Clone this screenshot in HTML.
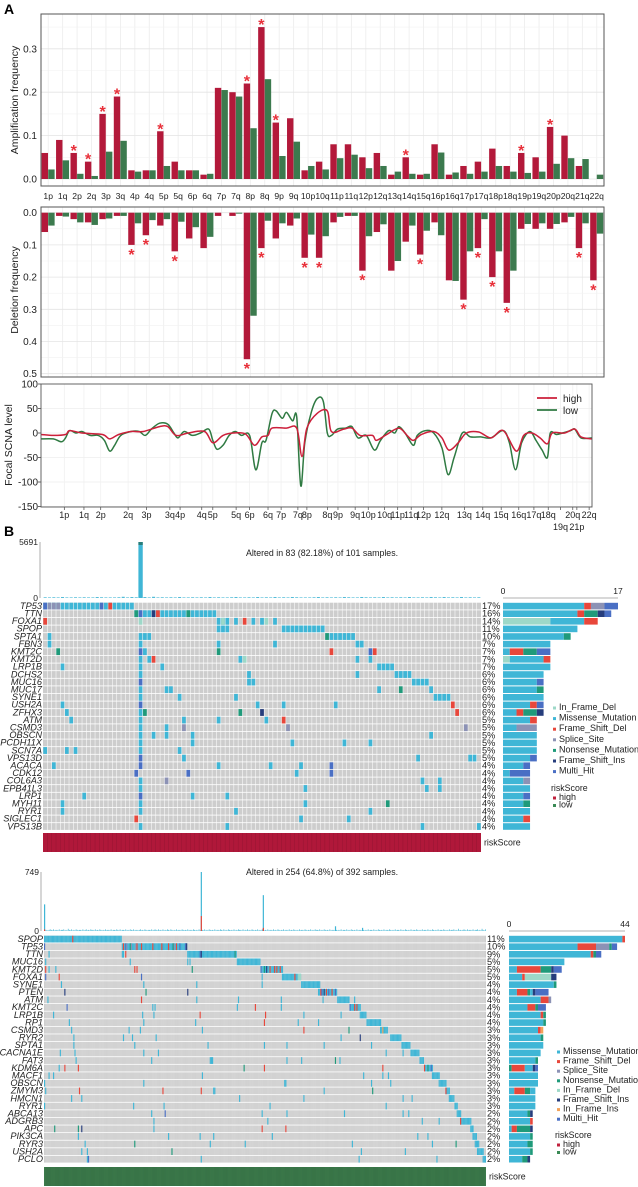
<!DOCTYPE html>
<html><head><meta charset="utf-8">
<style>
html,body{margin:0;padding:0;background:#fff;}
svg{display:block;font-family:"Liberation Sans",Arial,sans-serif;}
</style></head>
<body>
<svg id="fig" width="638" height="1187" viewBox="0 0 638 1187" xmlns="http://www.w3.org/2000/svg">
<text x="4" y="14" font-size="14" font-weight="bold">A</text>
<text x="4" y="536" font-size="14" font-weight="bold">B</text>
</svg>
<script>
// ---------- DATA ----------
const armLabels=['1p','1q','2p','2q','3p','3q','4p','4q','5p','5q','6p','6q','7p','7q','8p','8q','9p','9q','10p','10q','11p','11q','12p','12q','13q','14q','15q','16p','16q','17p','17q','18p','18q','19p','19q','20p','20q','21q','22q'];
const ampHigh=[.06,.09,.06,.04,.15,.19,.02,.02,.11,.04,.02,.01,.21,.20,.22,.35,.13,.14,.02,.04,.08,.08,.05,.06,.01,.05,.01,.08,.01,.03,.04,.07,.03,.06,.05,.12,.10,.03,.0];
const ampLow=[.022,.043,.012,.007,.063,.088,.017,.02,.03,.02,.02,.012,.205,.19,.117,.23,.053,.086,.03,.022,.048,.056,.025,.03,.017,.012,.012,.061,.015,.012,.017,.03,.017,.014,.017,.035,.048,.046,.01];
const ampSig=[0,0,1,1,1,1,0,0,1,0,0,0,0,0,1,1,1,0,0,0,0,0,0,0,0,1,0,0,0,0,0,0,0,1,0,1,0,0,0];
const delHigh=[.06,.01,.02,.03,.02,.01,.10,.07,.04,.12,.08,.11,.01,.01,.455,.11,.08,.04,.14,.14,.03,.01,.18,.06,.18,.09,.13,.03,.21,.27,.11,.20,.28,.05,.05,.05,.03,.11,.21];
const delLow=[.04,.012,.03,.038,.018,.01,.033,.023,.02,.028,.045,.075,0,.003,.32,.025,.033,.018,.068,.073,.013,.01,.073,.036,.15,.04,.056,.07,.212,.12,.02,.12,.18,.035,.033,.035,.013,.033,.065];
const delSig=[0,0,0,0,0,0,1,1,0,1,0,0,0,0,1,1,0,0,1,1,0,0,1,0,0,0,1,0,0,1,1,1,1,0,0,0,0,1,1];
const ampTicks=[0,0.1,0.2,0.3];
const delTicks=[0,0.1,0.2,0.3,0.4,0.5];
const focalTicks=[100,50,0,-50,-100,-150];
const focalLowPos=[0,30,50,60,70,85,100,120,140,155,168,180,195,220,240,255,270,290,310,325,335,350,370,390,410,420,430,445,460,475,490,510,525,540,550,565,575,590,600,615,625,635,645,660,675,690,700,710,725,745,760,775,795,815,830,850,865,875,890,910,920,940,960,980,995,1010,1030,1050,1075,1100,1130,1145,1160,1175,1195,1210,1225,1238,1245,1260,1275,1295,1305,1320,1347];
const focalLowVal=[-12,-12,-18,-10,5,0,3,-5,-5,-15,-37,-25,-5,3,3,-5,8,20,18,0,-10,3,-5,0,8,-15,-33,-25,-5,3,-5,-5,-75,-20,-15,40,45,30,42,25,33,-108,-20,40,70,65,0,-5,8,10,13,-10,-5,-35,-15,5,0,13,0,-25,-5,5,0,-30,-85,-50,0,-8,-8,-10,5,-20,-75,-20,3,-15,-35,-50,0,-3,0,5,8,-10,-10];
const focalHighPos=[0,30,60,70,100,150,168,190,220,250,290,310,330,360,400,420,445,470,500,522,540,555,565,600,625,638,650,675,700,710,740,760,780,810,820,845,875,895,910,930,960,980,997,1020,1040,1070,1100,1130,1162,1180,1200,1220,1238,1250,1280,1305,1320,1347];
const focalHighVal=[-3,-5,-3,5,0,-3,-12,-3,3,3,13,13,-5,0,3,-20,-5,0,-2,-25,-8,-5,10,10,10,-48,10,40,45,3,8,10,-5,-5,-15,-3,10,-5,-15,-3,3,-10,-35,-20,0,2,-10,5,-37,-5,0,-10,-22,0,0,8,-8,-12];
const focalLabels=['1p','1q','2p','2q','3p','3q','4p','4q','5p','5q','6p','6q','7p','7q','8p','8q','9p','9q','10p','10q','11p','11q','12p','12q','13q','14q','15q','16q','17q','18q','19q','20q','21p','22q'];
const focalLabelPos=[57,105,146,213,258,315,340,393,420,477,510,555,587,628,650,700,726,768,800,840,872,905,935,980,1035,1080,1125,1168,1205,1240,1270,1300,1310,1340];
const focalLabelRow=[0,0,0,0,0,0,0,0,0,0,0,0,0,0,0,0,0,0,0,0,0,0,0,0,0,0,0,0,0,0,1,0,1,0];

// Oncoplot 1
const genes1=['TP53','TTN','FOXA1','SPOP','SPTA1','FBN3','KMT2C','KMT2D','LRP1B','DCHS2','MUC16','MUC17','SYNE1','USH2A','ZFHX3','ATM','CSMD3','OBSCN','PCDH11X','SCN7A','VPS13D','ACACA','CDK12','COL6A3','EPB41L3','LRP1','MYH11','RYR1','SIGLEC1','VPS13B'];
const pct1=['17%','16%','14%','11%','10%','7%','7%','7%','7%','6%','6%','6%','6%','6%','6%','5%','5%','5%','5%','5%','5%','4%','4%','4%','4%','4%','4%','4%','4%','4%'];
const muts1=["0-20M,0X,1-3S,13X,15F","21-39M,21N,22X,25I,26F,33N","0F,22D,40-42M,41D,44M,46F,48M,50M,51D,53M","40-42M,55-64M","1M,22-24M,65N,66-71M","1M,22M,40M,53M,72-73M","3N,22X,23M,40N,66F,75X,76F","22M,24M,25F,45M,46D,72M,75M","4M,22M,27M,77-80M","22M,47M,72M,81-84M","22X,47-48M,85-88M","22M,28-29M,77M,82N,89M","22M,31M,44M,90-93M","4M,22X,49M,55M,67M,94F","5M,22M,23N,45N,50I,95F","6M,22M,32M,40M,51M,55F","22M,28M,32S,56S,97S","22M,25M,28M,34M,89M","22M,34M,57M,69M,75M","0M,5M,7M,22M,31M","22X,32M,86M,98-99M","2M,22X,40M,52M,59M,66X","21X,33X,58M,66X","22M,28S,87M,91M","22M,60M,88M,91M","9M,22X,34M,42M","4M,22M,60M,79N","4M,22M,44M,75M","21F,59M,70M","22M,42M,87M,100M"];
const barSeg1=["M12,F1,S2,X2","M11,F1,N2,I1,X1","D7,M5,F2","M11","M9,N1","M7","M1,F2,N2,X2","D1,M5,F1","M7","M6","M5,X1","M5,N1","M6","M4,F1,X1","M2,F1,N2,I1","M4,F1","M2,S3","M5","M5","M5","M4,X1","M3,X1","M1,X3","M3,S1","M4","M3,X1","M3,N1","M4","M3,F1","M4"];
const tmb1Str="31324213232143221352432415231324213231423213421324231423143221342313243214323142313242132431423141";
const tmb1Spike=[[22,5691]];

// Oncoplot 2
const genes2=['SPOP','TP53','TTN','MUC16','KMT2D','FOXA1','SYNE1','PTEN','ATM','KMT2C','LRP1B','RP1','CSMD3','RYR2','SPTA1','CACNA1E','FAT3','KDM6A','MACF1','OBSCN','ZMYM3','HMCN1','RYR1','ABCA13','ADGRB3','APC','PIK3CA','RYR3','USH2A','PCLO'];
const pct2=['11%','10%','9%','5%','5%','5%','4%','4%','4%','4%','4%','4%','3%','3%','3%','3%','3%','3%','3%','3%','3%','3%','3%','2%','2%','2%','2%','2%','2%','2%'];
const muts2=["0-68M,25F","69-126M,70F,82F,86F,96F,104F,110F,117F,72X,120X,125X,73S,77S,81S,115S,76N,114N,126I,0X","127-170M,138X,139I,169N,4M,69-70M,72F","171-191M,1M,76M,127M,129M","192-211M,192X,195N,197I,200F,204F,206F,209F,1F,4M,10M,80F,82F,131N","211-227M,222F,225-227D,1X,13F,86X,193M","228-244M,15M,88M,135M,193M","243-259M,245F,246X,248I,250F,252X,255F,258X,18I,90N,127I","260-270M,3M,86F,135M,172M,210M,247M,275M","271-280M,271X,275F,277F,20X,96M,98M,171M,187F,210M","280-285M,8M,87M,97M,138F,196F,230M,263M","286-298M,22M,88M,134M,195F,225M,243M","298-304M,24M,75M,85M,140M,230F,270N,300O","307-316M,26M,70M,78M,99M,263M,280I","317-324M,26M,80M,145M,195M,215M,248M,290M","325-332M,14M,27M,88M,101M,303M,318M","333-336M,28M,95M,147-149M,215M,228M,258N,262M","337-344M,337F,340N,343X,13M,18F,30F,177N,195F,300F","344-350M,4M,8M,140M,283M,300M,305M","350-356M,0M,88M,213-214M,290M,307M","356-359M,356F,1M,31F,105F,139F,150-151M,248M,291N","359-363M,24M,33M,173M,230M,318M,326M","364-366M,0M,79M,106M,200M,303M","366-369M,95M,107X,193M,215M,266M,318M,323M","369-378M,369F,97M,198M,335M,350M","378-380M,9N,30N,33I,97M,193F,214F","380-383M,30M,110M,138M,150M,202M,331M,340M","382-385M,36M,80N,147M,178M,273M,344M,365N","384-389M,33M,38M,113N,281M,320M","389-391M,38M,39X,139M,279M,348M"];
const barSeg2=["M43,F1","M26,F7,S5,N1,X2","M31,F1,N1,X2","M21","M3,F9,N4,I1,X3","M5,F1,D10,I2","M17,N1","M3,F4,N1,M1,I1,X5","M12,F3,S1","M7,F3,N1,X3","M12,F1,N1","M13,N1","M11,F1,O1","M12,N1","M13","M12","M10,N1","N1,F5,M3,I1,X1","M11","M11","M2,F4,N2,M2","M10","M10","M7,N1,I1","M8,F1","M1,F2,N5,I1","M8,N1","M7,N2","M8,N1","M5,N2,I1"];
const tmb2Str="4121232131221312231214213121321221312312132213121321213122131221321312213121321312212312132122131232131213121321321213122132121312213212131221312132121312213213121321213121322131213121321213121321213122131213212131221312132121312213212131213221312132121312213212131221312132121312213212131221312132121312213212131221312132121312213212131221312132121312213212131223121";
const tmb2Spike=[[0,338,20],[139,749,190],[194,455,40],[258,60,0],[282,40,0]];

const colors={M:'#3fb6d6',F:'#e8473b',S:'#8c92b5',N:'#1f9a7a',D:'#9dd8c8',I:'#263d7c',X:'#4a6fc4',O:'#f2a25a'};
const legend1=[['D','In_Frame_Del'],['M','Missense_Mutation'],['F','Frame_Shift_Del'],['S','Splice_Site'],['N','Nonsense_Mutation'],['I','Frame_Shift_Ins'],['X','Multi_Hit']];
const legend2=[['M','Missense_Mutation'],['F','Frame_Shift_Del'],['S','Splice_Site'],['N','Nonsense_Mutation'],['D','In_Frame_Del'],['I','Frame_Shift_Ins'],['O','In_Frame_Ins'],['X','Multi_Hit']];

// ---------- HELPERS ----------
const NS='http://www.w3.org/2000/svg';
const svg=document.getElementById('fig');
function mk(tag,parent){const e=document.createElementNS(NS,tag);(parent||svg).appendChild(e);return e;}
function at(e,o){for(const k in o)e.setAttribute(k,o[k]);return e;}
function txt(parent,x,y,s,size,anchor,extra){const t=mk('text',parent);at(t,{x:x,y:y,'font-size':size,'text-anchor':anchor||'start',fill:'#222'});if(extra)at(t,extra);t.textContent=s;return t;}
function parseMuts(str){const out=[];str.split(',').forEach(tok=>{const m=tok.match(/^(\d+)(?:-(\d+))?([A-Z])$/);if(!m)return;const a=+m[1],b=m[2]?+m[2]:a;for(let i=a;i<=b;i++)out.push([i,m[3]]);});return out;}
function parseSeg(str){return str.split(',').map(s=>[s[0],+s.slice(1)]);}

const HIGH='#b3193a',LOW='#3c7a4e',STAR='#e8303a';

// ---------- AMP / DEL ----------
const cx0=41,cx1=604,nArm=armLabels.length,cw=(cx1-cx0)/nArm;
function xArm(i){return cx0+(i+0.5)*cw;}
function yAmp(v){return 179-v*434;}
function yDel(v){return 212.7+v*322;}

function panelFrame(name,y0,y1,ticks,yf,fmt,title,titleY,x1){
  const g=mk('g');
  const bg=mk('rect',g);at(bg,{x:cx0,y:y0,width:(x1||cx1)-cx0,height:y1-y0,fill:'#fff'});
  return g;
}
// amp
const gA=panelFrame('amplification-chart',14,186);
for(let i=0;i<nArm;i++){const l=mk('line',gA);at(l,{x1:xArm(i),x2:xArm(i),y1:14,y2:186,stroke:'#ececec','stroke-width':0.8});}
ampTicks.forEach((t,k)=>{const y=yAmp(t);const l=mk('line',gA);at(l,{x1:cx0,x2:cx1,y1:y,y2:y,stroke:'#e4e4e4','stroke-width':0.8});
  const m=mk('line',gA);at(m,{x1:cx0,x2:cx1,y1:yAmp(t+0.05),y2:yAmp(t+0.05),stroke:'#f2f2f2','stroke-width':0.6});
  const tk=txt(gA,37,y+3.5,t.toFixed(1),10,'end');});
ampHigh.forEach((v,i)=>{const c=xArm(i);
  const r=mk('rect',gA);at(r,{x:c-6.6,y:yAmp(v),width:6.4,height:Math.max(0,yAmp(0)-yAmp(v)),fill:HIGH});
  const r2=mk('rect',gA);at(r2,{x:c,y:yAmp(ampLow[i]),width:6.4,height:Math.max(0,yAmp(0)-yAmp(ampLow[i])),fill:LOW});
  if(ampSig[i]){const s=txt(gA,c-3.4,yAmp(v)+3,'*',16,'middle',{fill:STAR,'font-weight':'bold'});}
});
{const b=mk('rect',gA);at(b,{x:cx0,y:14,width:cx1-cx0,height:172,fill:'none',stroke:'#555','stroke-width':1});}
{const t=txt(gA,0,0,'Amplification frequency',10.5,'middle',{transform:'translate(18,100) rotate(-90)'});}
armLabels.forEach((a,i)=>{const t=txt(svg,xArm(i),199,a,8.6,'middle');});

// del
const gD=panelFrame('deletion-chart',207,377);
for(let i=0;i<nArm;i++){const l=mk('line',gD);at(l,{x1:xArm(i),x2:xArm(i),y1:207,y2:377,stroke:'#ececec','stroke-width':0.8});}
delTicks.forEach(t=>{const y=yDel(t);const l=mk('line',gD);at(l,{x1:cx0,x2:cx1,y1:y,y2:y,stroke:'#e4e4e4','stroke-width':0.8});
  if(t<0.5){const m=mk('line',gD);at(m,{x1:cx0,x2:cx1,y1:yDel(t+0.05),y2:yDel(t+0.05),stroke:'#f2f2f2','stroke-width':0.6});}
  const tk=txt(gD,37,y+3.5,t.toFixed(1),10,'end');});
delHigh.forEach((v,i)=>{const c=xArm(i);
  const r=mk('rect',gD);at(r,{x:c-6.6,y:yDel(0),width:6.4,height:yDel(v)-yDel(0),fill:HIGH});
  const r2=mk('rect',gD);at(r2,{x:c,y:yDel(0),width:6.4,height:yDel(delLow[i])-yDel(0),fill:LOW});
  if(delSig[i]){const s=txt(gD,c-3.4,yDel(v)+15,'*',16,'middle',{fill:STAR,'font-weight':'bold'});}
});
{const b=mk('rect',gD);at(b,{x:cx0,y:207,width:cx1-cx0,height:170,fill:'none',stroke:'#555','stroke-width':1});}
{const t=txt(gD,0,0,'Deletion frequency',10.5,'middle',{transform:'translate(18,290) rotate(-90)'});}

// ---------- FOCAL ----------
const fx0=41,fx1=592,fy0=384,fy1=507,fSpan=1347;
function xF(p){return fx0+p/fSpan*(fx1-fx0);}
function yF(v){return 433-v*0.49;}
const gF=mk('g');
focalTicks.forEach(t=>{const y=yF(t);const l=mk('line',gF);at(l,{x1:fx0,x2:fx1,y1:y,y2:y,stroke:'#eeeeee','stroke-width':0.8});
  const tk=txt(gF,38,y+3.5,String(t),10,'end');
  const tm=mk('line',gF);at(tm,{x1:fx0-3,x2:fx0,y1:y,y2:y,stroke:'#444','stroke-width':0.8});});
focalLabelPos.forEach((p,i)=>{const l=mk('line',gF);at(l,{x1:xF(p),x2:xF(p),y1:fy0,y2:fy1,stroke:'#f0f0f0','stroke-width':0.8});
  const tm=mk('line',gF);at(tm,{x1:xF(p),x2:xF(p),y1:fy1,y2:fy1+3,stroke:'#444','stroke-width':0.7});
  const t=txt(gF,xF(p),518+focalLabelRow[i]*12,focalLabels[i],9,'middle');});
function smoothPath(ps,vs){const pts=ps.map((p,i)=>[xF(p),yF(vs[i])]);let d='M'+pts[0][0].toFixed(1)+','+pts[0][1].toFixed(1);
  for(let i=0;i<pts.length-1;i++){const p0=pts[Math.max(0,i-1)],p1=pts[i],p2=pts[i+1],p3=pts[Math.min(pts.length-1,i+2)];
    const c1=[p1[0]+(p2[0]-p0[0])/6,p1[1]+(p2[1]-p0[1])/6],c2=[p2[0]-(p3[0]-p1[0])/6,p2[1]-(p3[1]-p1[1])/6];
    d+=' C'+c1[0].toFixed(1)+','+c1[1].toFixed(1)+' '+c2[0].toFixed(1)+','+c2[1].toFixed(1)+' '+p2[0].toFixed(1)+','+p2[1].toFixed(1);}
  return d;}
{const p=mk('path',gF);at(p,{d:smoothPath(focalLowPos,focalLowVal),fill:'none',stroke:'#2f7a42','stroke-width':1.5});}
{const p=mk('path',gF);at(p,{d:smoothPath(focalHighPos,focalHighVal),fill:'none',stroke:'#cc1f3a','stroke-width':1.5});}
{const b=mk('rect',gF);at(b,{x:fx0,y:fy0,width:fx1-fx0,height:fy1-fy0,fill:'none',stroke:'#555','stroke-width':0.9});}
{const t=txt(gF,0,0,'Focal SCNA level',10.5,'middle',{transform:'translate(12,445) rotate(-90)'});}
{const g=mk('g',gF);
 const l1=mk('line',g);at(l1,{x1:537,x2:557,y1:398,y2:398,stroke:'#cc1f3a','stroke-width':1.8});
 const t1=txt(g,563,402,'high',10);
 const l2=mk('line',g);at(l2,{x1:537,x2:557,y1:410,y2:410,stroke:'#2f7a42','stroke-width':1.8});
 const t2=txt(g,563,414,'low',10);}

// ---------- ONCOPLOT ----------
function oncoplot(cfg){
  const g=mk('g');
  const n=cfg.nSamples,cwid=(cfg.mx1-cfg.mx0)/n;
  const xs=i=>cfg.mx0+i*cwid;
  // TMB top
  const tScale=(cfg.tmbY1-cfg.tmbY0)/cfg.tmbMax;
  const ax=mk('line',g);at(ax,{x1:cfg.mx0-3,x2:cfg.mx0-3,y1:cfg.tmbY0,y2:cfg.tmbY1,stroke:'#999','stroke-width':0.8});
  const tl=txt(g,cfg.mx0-5,cfg.tmbY0+3,String(cfg.tmbMax),8.5,'end');
  const t0=txt(g,cfg.mx0-5,cfg.tmbY1+3,'0',8.5,'end');
  for(let i=0;i<n;i++){const v=(+cfg.tmbStr[i%cfg.tmbStr.length])*cfg.tmbUnit;const h=Math.max(0.6,v*tScale);
    const r=mk('rect',g);at(r,{x:xs(i)+cwid*0.15,y:cfg.tmbY1-h,width:cwid*0.7,height:h,fill:'#52bcd8'});}
  cfg.spikes.forEach(s=>{const h=s[1]*tScale,hr=(s[2]||0)*tScale;
    const r=mk('rect',g);at(r,{x:xs(s[0]),y:cfg.tmbY1-h,width:Math.max(cwid,1.2),height:h,fill:colors.M});
    if(hr>0){const r2=mk('rect',g);at(r2,{x:xs(s[0]),y:cfg.tmbY1-hr,width:Math.max(cwid,1.2),height:hr,fill:colors.F});}
    if(cfg.capTop){const r3=mk('rect',g);at(r3,{x:xs(s[0]),y:cfg.tmbY1-h,width:cwid,height:3,fill:'#2a7d7a'});}
  });
  const title=txt(g,322,cfg.titleY,cfg.title,8.8,'middle');
  // matrix
  const rh=cfg.rowH;
  cfg.genes.forEach((gn,r)=>{const y=cfg.my0+r*rh;
    const bg=mk('rect',g);at(bg,{x:cfg.mx0,y:y+0.4,width:cfg.mx1-cfg.mx0,height:rh-0.8,fill:'#cdcdcd'});
    const lb=txt(g,cfg.mx0-1,y+rh-1,gn,9.2,'end',{'font-style':'italic'});
    const pc=txt(g,cfg.pctX,y+rh-0.8,cfg.pct[r],9.2,'start');
  });
  for(let i=1;i<n;i++){const l=mk('line',g);at(l,{x1:xs(i),x2:xs(i),y1:cfg.my0,y2:cfg.my0+rh*cfg.genes.length,stroke:'#fff','stroke-width':cfg.vline,'stroke-opacity':cfg.vop});}
  cfg.muts.forEach((s,r)=>{parseMuts(s).forEach(([i,c])=>{if(i>=n)return;const c2=mk('rect',g);at(c2,{x:xs(i)+cfg.cgap,y:cfg.my0+r*rh+0.4,width:cwid-2*cfg.cgap,height:rh-0.8,fill:colors[c]});});});
  // risk bar
  const rb=mk('rect',g);at(rb,{x:cfg.mx0,y:cfg.riskY0,width:cfg.mx1-cfg.mx0,height:cfg.riskY1-cfg.riskY0,fill:cfg.riskColor});
  for(let i=1;i<n;i+=cfg.riskStep){const l=mk('line',g);at(l,{x1:xs(i),x2:xs(i),y1:cfg.riskY0,y2:cfg.riskY1,stroke:'#000','stroke-width':0.3,'stroke-opacity':0.25});}
  const rl=txt(g,cfg.mx1+3,(cfg.riskY0+cfg.riskY1)/2+3,'riskScore',8.8);
  // right bars
  const bs=(cfg.bx1-cfg.bx0)/cfg.bMax;
  const bax=mk('line',g);at(bax,{x1:cfg.bx0,x2:cfg.bx1,y1:cfg.bAxisY,y2:cfg.bAxisY,stroke:'#999','stroke-width':0.8});
  const b0=txt(g,cfg.bx0,cfg.bAxisY-4,'0',8.5,'middle');
  const b1=txt(g,cfg.bx1,cfg.bAxisY-4,String(cfg.bMax),8.5,'middle');
  cfg.barSeg.forEach((s,r)=>{let x=cfg.bx0;parseSeg(s).forEach(([c,v])=>{const w=v*bs;const rr=mk('rect',g);at(rr,{x:x,y:cfg.my0+r*rh+0.5,width:w,height:rh-1,fill:colors[c]});x+=w;});});
  // legend
  const lg=mk('g',g);
  cfg.legend.forEach(([c,lab],k)=>{const y=cfg.legY+k*cfg.legDy;const sq=mk('rect',lg);at(sq,{x:cfg.legX,y:y-3.5,width:3,height:3,fill:colors[c]});
    const t=txt(lg,cfg.legX+6,y,lab,9);});
  const rt=txt(lg,cfg.legX-2,cfg.riskLegY,'riskScore',8.8);
  [['high','#c0213d'],['low','#3a8a55']].forEach(([lab,col],k)=>{const y=cfg.riskLegY+9+k*7.5;const sq=mk('rect',lg);at(sq,{x:cfg.legX,y:y-3.5,width:3,height:3,fill:col});
    const t=txt(lg,cfg.legX+6,y,lab,9);});
}

oncoplot({name:'oncoplot-high-risk',nSamples:101,mx0:43,mx1:481,my0:602.3,rowH:7.6,genes:genes1,pct:pct1,muts:muts1,barSeg:barSeg1,
  tmbY0:542,tmbY1:598,tmbMax:5691,tmbStr:tmb1Str,tmbUnit:25,spikes:tmb1Spike,capTop:true,title:'Altered in 83 (82.18%) of 101 samples.',titleY:556,
  pctX:482,vline:0.6,vop:0.9,cgap:0.3,riskY0:833,riskY1:852,riskColor:'#b0183a',riskStep:1,
  bx0:503,bx1:618,bMax:17,bAxisY:598,legend:legend1,legX:553,legY:710,legDy:10.6,riskLegY:791});
oncoplot({name:'oncoplot-low-risk',nSamples:392,mx0:44,mx1:486,my0:935.3,rowH:7.59,genes:genes2,pct:pct2,muts:muts2,barSeg:barSeg2,
  tmbY0:872,tmbY1:931,tmbMax:749,tmbStr:tmb2Str,tmbUnit:7,spikes:tmb2Spike,capTop:false,title:'Altered in 254 (64.8%) of 392 samples.',titleY:875,
  pctX:487,vline:0.3,vop:0.45,cgap:0,riskY0:1167,riskY1:1186,riskColor:'#3d7d4d',riskStep:1,
  bx0:509,bx1:625,bMax:44,bAxisY:931,legend:legend2,legX:557,legY:1054,legDy:9.6,riskLegY:1138});
</script>
</body></html>
